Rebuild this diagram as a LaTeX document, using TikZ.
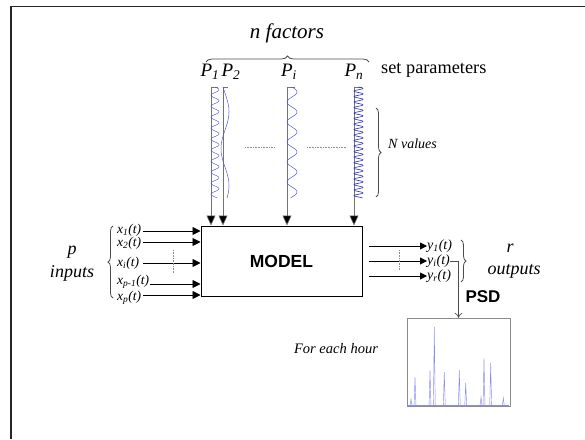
\documentclass[tikz,border=0pt]{standalone}
\usepackage{fontspec}
\setmainfont{LiberationSerif}[Extension = .ttf, UprightFont = *-Regular, ItalicFont = *-Italic,
                             BoldFont = *-Bold, BoldItalicFont = *-BoldItalic]
\setsansfont{Liberation Sans}
\usetikzlibrary{arrows.meta}
\usetikzlibrary{decorations.pathreplacing}
\usetikzlibrary{calc}
\definecolor{wavecol}{RGB}{85,85,220}
\definecolor{wavedark}{RGB}{50,50,190}
\definecolor{spikecol}{RGB}{140,140,235}
\newcommand{\sz}[1]{\fontsize{#1}{#1}\selectfont}

\begin{document}
\begin{tikzpicture}[x = 1pt, y = -1pt,
            txt/.style = {inner sep = 0pt},
            brc/.style = {decorate, decoration = {brace, amplitude = #1}, draw = black!70, thick},
            brc/.default = 5pt,
            wave/.style = {draw = wavecol, line width = 0.5pt},
            parline/.style = {draw = black!55, line width = 0.6pt, -{Triangle[length = 10pt, width = 9pt, fill = black]}},
            inarr/.style = {draw = black, line width = 0.9pt, -{Triangle[length = 8pt, width = 8pt]}},
            outarr/.style = {draw = black, line width = 0.9pt, -{Triangle[length = 7pt, width = 7pt]}},
            dots/.style = {draw = black!45, densely dotted, line width = 0.6pt}]
            \useasboundingbox (0, 0) rectangle (585, 439);
            \draw [black!85, line width = 1.5pt] (585, 6.5) -- (11, 6.5) -- (11, 439);

            \node [txt, font = \itshape\sz{21}] (factors) at (287, 33) {n factors};
            \draw [brc = 6pt] (206, 62) -- (369, 62);

            \node [txt, font = \itshape\sz{19}] (P1) at (210, 72) {P\textsubscript{1}};
            \node [txt, font = \itshape\sz{19}] (P2) at (231, 72) {P\textsubscript{2}};
            \node [txt, font = \itshape\sz{19}] (Pi) at (289, 72) {P\textsubscript{i}};
            \node [txt, font = \itshape\sz{19}] (Pn) at (354, 72) {P\textsubscript{n}};
            \node [txt, anchor = west, font = \sz{18.3}] (setpar) at (381, 70) {set parameters};

            \node [draw, line width = 1pt, minimum width = 161pt, minimum height = 70pt,
                   font = \sffamily\bfseries\sz{17.5}] (model) at (281.5, 261) {MODEL};

            \coordinate (t1) at (211, 87);
            \coordinate (t2) at (223, 87);
            \coordinate (ti) at (287, 87);
            \coordinate (tn) at (354, 87);

            \draw [parline] (t1) -- (t1 |- model.north);
            \draw [parline] (t2) -- (t2 |- model.north);
            \draw [parline] (ti) -- (ti |- model.north);
            \draw [parline] (tn) -- (tn |- model.north);

            \draw [black!55] (t1) -- ++(7, 0);
            \draw [black!55] (t2) -- ++(5, 0);
            \draw [black!55] (ti) -- ++(8, 0);
            \draw [black!55] (tn) -- ++(8, 0);

            \draw [wave] plot [domain = 87:198, samples = 300, variable = \t] ({215 + 4*sin((\t - 87)/11*360)}, \t);
            \draw [wave] plot [domain = 87:198, samples = 120, variable = \t] ({225 + 4*sin((\t - 87)/74*360 - 30)}, \t);
            \draw [wave] plot [domain = 87:198, samples = 200, variable = \t] ({292 + 5*sin((\t - 87)/20*360)}, \t);
            \draw [wave, draw = wavedark, line width = 0.6pt] plot [domain = 87:198, samples = 600, variable = \t] ({358.5 + 4.5*sin((\t - 87)/5.5*360)}, \t);

            \draw [dots] (245, 147) -- (275, 147);
            \draw [dots] (307, 147) -- (347, 147);

            \draw [brc] (376, 108) -- (376, 197);
            \node [txt, anchor = west, font = \itshape\sz{14}] (nval) at (388, 144) {N values};

            \node [txt, font = \itshape\sz{18}] (p) at (72, 252) {p};
            \node [txt, font = \itshape\sz{18}] (inputs) at (72, 273) {inputs};
            \draw [brc] (113, 298) -- (113, 226);

            \node [txt, anchor = west, font = \itshape\sz{13.5}] (x1) at (117, 230) {x\textsubscript{1}(t)};
            \node [txt, anchor = west, font = \itshape\sz{13.5}] (x2) at (117, 243) {x\textsubscript{2}(t)};
            \node [txt, anchor = west, font = \itshape\sz{13.5}] (xi) at (117, 263) {x\textsubscript{i}(t)};
            \node [txt, anchor = west, font = \itshape\sz{13.5}] (xq) at (117, 281.5) {x\textsubscript{p-1}(t)};
            \node [txt, anchor = west, font = \itshape\sz{13.5}] (xp) at (117, 297.5) {x\textsubscript{p}(t)};

            \draw [inarr] (143, 231) -- (143, 231 -| model.west);
            \draw [inarr] (143, 242) -- (143, 242 -| model.west);
            \draw [inarr] (143, 263) -- (143, 263 -| model.west);
            \draw [inarr] ([xshift = 1pt] xq.east |- 0, 284) -- (143, 284 -| model.west);
            \draw [inarr] (143, 295) -- (143, 295 -| model.west);
            \draw [dots] (173, 250) -- (173, 273);

            \node [txt, anchor = west, font = \itshape\sz{14}] (y1) at (427, 246) {y\textsubscript{1}(t)};
            \node [txt, anchor = west, font = \itshape\sz{14}] (yi) at (427, 261) {y\textsubscript{i}(t)};
            \node [txt, anchor = west, font = \itshape\sz{14}] (yr) at (427, 276) {y\textsubscript{r}(t)};

            \draw [outarr] ($(model.east |- y1.west) + (6, 0)$) -- (y1.west);
            \draw [outarr] ($(model.east |- yi.west) + (6, 0)$) -- (yi.west);
            \draw [outarr] ($(model.east |- yr.west) + (6, 0)$) -- (yr.west);
            \draw [dots] (399, 250) -- (399, 270);

            \draw [brc] (461, 240) -- (461, 282);
            \node [txt, font = \itshape\sz{18}] (r) at (510, 248) {r};
            \node [txt, font = \itshape\sz{18}] (outputs) at (514, 271) {outputs};

            \node [draw = black!45, minimum width = 103pt, minimum height = 88pt] (spec) at (458.5, 362) {};
            \draw [black!70, line width = 0.6pt, -{To[length = 5pt, width = 8pt]}] (yi.east) -| (spec.north);
            \node [txt, font = \sffamily\bfseries\sz{17}] (psd) at (483, 297) {PSD};

            \draw [spikecol, line width = 0.5pt] (408, 405) -- (509, 405);
            \foreach \sx/\sy in {411/399, 415/377, 430/370, 434.3/327, 444.3/372, 459.3/370,
                                 465.7/383, 481/397, 484/358, 490.7/363, 503.3/398}
                \draw [spikecol, line width = 0.45pt] (\sx - 0.9, 405) -- (\sx, \sy) -- (\sx + 0.9, 405);

            \node [txt, font = \itshape\sz{14.5}] (hour) at (336, 349) {For each hour};
        \end{tikzpicture}
\end{document}
